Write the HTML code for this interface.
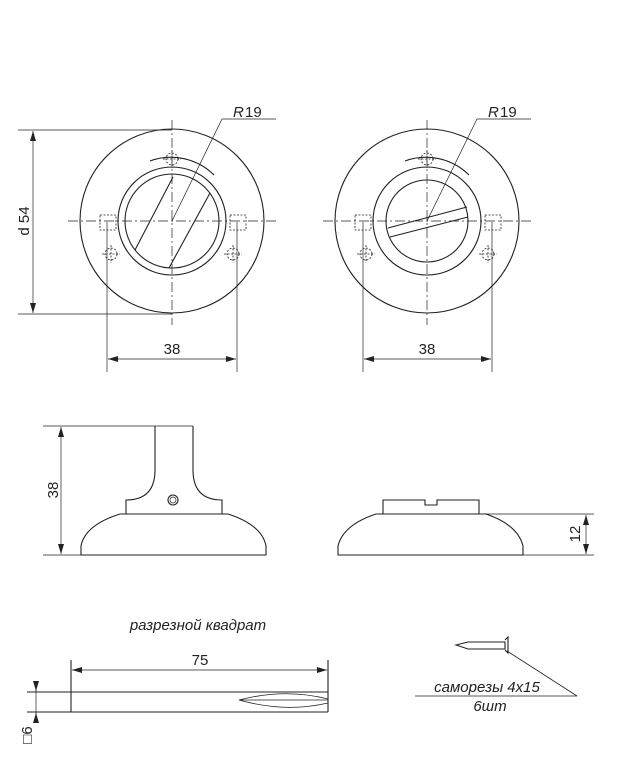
<!DOCTYPE html>
<html><head><meta charset="utf-8"><style>body{margin:0;background:#fff}svg{display:block}</style></head><body>
<svg width="623" height="767" viewBox="0 0 623 767" xmlns="http://www.w3.org/2000/svg" font-family="Liberation Sans, sans-serif">
<defs>
<marker id="a" viewBox="0 0 10 6" refX="10" refY="3" markerWidth="10" markerHeight="6" orient="auto-start-reverse" markerUnits="userSpaceOnUse"><path d="M0,0L10,3L0,6z" fill="#222"/></marker>
</defs>
<g fill="none" stroke="#222" stroke-width="1.1">
<!-- LEFT TOP VIEW -->
<circle cx="172" cy="221" r="92"/>
<circle cx="172" cy="221" r="54"/>
<circle cx="172" cy="221" r="47"/>
<path d="M150,161 A61,61 0 0 1 214,175"/>
<line x1="135" y1="250" x2="173" y2="177"/>
<line x1="169" y1="268" x2="210" y2="193"/>
<g stroke-dasharray="2,1.5" stroke-width="0.8">
<circle cx="172" cy="159" r="6"/><circle cx="111" cy="254" r="6"/><circle cx="233" cy="254" r="6"/>
<path d="M163,159H181M172,150V168M102,254H120M111,245V263M224,254H242M233,245V263"/>
<rect x="100" y="215" width="16" height="15"/><rect x="230" y="215" width="16" height="15"/>
</g>
<g stroke-dasharray="10,3,2,3" stroke-width="0.7">
<line x1="172" y1="120" x2="172" y2="325"/><line x1="68" y1="221" x2="278" y2="221"/>
</g>
<g stroke-width="0.7">
<line x1="172" y1="221" x2="222" y2="119"/><line x1="222" y1="119" x2="276" y2="119"/>
<line x1="18" y1="130" x2="172" y2="130"/><line x1="18" y1="314" x2="172" y2="314"/>
<line x1="33" y1="131" x2="33" y2="313" marker-start="url(#a)" marker-end="url(#a)"/>
<line x1="107" y1="222" x2="107" y2="372"/><line x1="237" y1="222" x2="237" y2="372"/>
<line x1="108" y1="359" x2="236" y2="359" marker-start="url(#a)" marker-end="url(#a)"/>
</g>
<!-- RIGHT TOP VIEW -->
<circle cx="427" cy="221" r="92"/>
<circle cx="427" cy="221" r="54"/>
<circle cx="427" cy="221" r="41"/>
<path d="M405,161 A61,61 0 0 1 469,175"/>
<line x1="388" y1="228" x2="467" y2="207"/>
<line x1="390" y1="237" x2="468" y2="217"/>
<g stroke-dasharray="2,1.5" stroke-width="0.8">
<circle cx="427" cy="159" r="6"/><circle cx="366" cy="254" r="6"/><circle cx="488" cy="254" r="6"/>
<path d="M418,159H436M427,150V168M357,254H375M366,245V263M479,254H497M488,245V263"/>
<rect x="355" y="215" width="16" height="15"/><rect x="485" y="215" width="16" height="15"/>
</g>
<g stroke-dasharray="10,3,2,3" stroke-width="0.7">
<line x1="427" y1="120" x2="427" y2="325"/><line x1="323" y1="221" x2="533" y2="221"/>
</g>
<g stroke-width="0.7">
<line x1="427" y1="221" x2="477" y2="119"/><line x1="477" y1="119" x2="531" y2="119"/>
<line x1="363" y1="222" x2="363" y2="372"/><line x1="492" y1="222" x2="492" y2="372"/>
<line x1="364" y1="359" x2="491" y2="359" marker-start="url(#a)" marker-end="url(#a)"/>
</g>
<!-- LEFT SIDE VIEW -->
<line x1="43" y1="426" x2="193" y2="426" stroke-width="0.8"/>
<path d="M155,426 V470 Q155,500 126,500 V514 H222 V500 Q193,500 193,470 V426"/>
<path d="M126,514 H120 Q85,525 81,546 V555 H266 V546 Q262,525 228,514 H222"/>
<circle cx="173" cy="500" r="5"/><circle cx="173" cy="500" r="3" stroke-width="0.7"/>
<line x1="43" y1="555" x2="81" y2="555" stroke-width="0.8"/>
<line x1="61" y1="427" x2="61" y2="554" stroke-width="0.7" marker-start="url(#a)" marker-end="url(#a)"/>
<!-- RIGHT SIDE VIEW -->
<path d="M383,514 V500 H425 V505 H437 V500 H479 V514"/>
<path d="M376,514 H486 Q518,525 523,546 V555 H338 V546 Q343,525 376,514"/>
<g stroke-width="0.7">
<line x1="486" y1="514" x2="594" y2="514"/><line x1="523" y1="555" x2="594" y2="555"/>
<line x1="586" y1="515" x2="586" y2="554" marker-start="url(#a)" marker-end="url(#a)"/>
</g>
<!-- BAR -->
<line x1="27" y1="692" x2="328" y2="692"/>
<line x1="27" y1="712" x2="328" y2="712"/>
<line x1="71" y1="660" x2="71" y2="712"/>
<line x1="328" y1="660" x2="328" y2="712"/>
<path d="M239,700 Q285,688 328,699 M239,700 Q285,713 328,703 M239,700 H328" stroke-width="0.8"/>
<line x1="72" y1="670" x2="327" y2="670" stroke-width="0.7" marker-start="url(#a)" marker-end="url(#a)"/>
<line x1="36" y1="683" x2="36" y2="691" stroke-width="0.7" marker-end="url(#a)"/>
<line x1="36" y1="722" x2="36" y2="713" stroke-width="0.7" marker-end="url(#a)"/>
<line x1="36" y1="683" x2="36" y2="722" stroke-width="0.7"/>
<!-- SCREW -->
<path d="M456,645 L468,642 H505 V649 H468 Z"/>
<path d="M505,640 L508,637 V653 L505,650" />
<line x1="507" y1="651" x2="577" y2="696" stroke-width="0.8"/>
<line x1="415" y1="696" x2="577" y2="696" stroke-width="0.8"/>
</g>
<g fill="#222" font-size="15">
<text x="233" y="117" font-style="italic">R</text><text x="245" y="117">19</text>
<text x="488" y="117" font-style="italic">R</text><text x="500" y="117">19</text>
<text x="172" y="354" text-anchor="middle">38</text>
<text x="427" y="354" text-anchor="middle">38</text>
<text transform="translate(29,221) rotate(-90)" text-anchor="middle">d 54</text>
<text transform="translate(58,490) rotate(-90)" text-anchor="middle">38</text>
<text transform="translate(580,534) rotate(-90)" text-anchor="middle">12</text>
<text x="198" y="630" text-anchor="middle" font-style="italic">разрезной квадрат</text>
<text x="200" y="665" text-anchor="middle">75</text>
<text transform="translate(32,735) rotate(-90)" text-anchor="middle">□6</text>
<text x="487" y="692" text-anchor="middle" font-style="italic">саморезы 4x15</text>
<text x="490" y="711" text-anchor="middle" font-style="italic">6шт</text>
</g>
</svg>
</body></html>
